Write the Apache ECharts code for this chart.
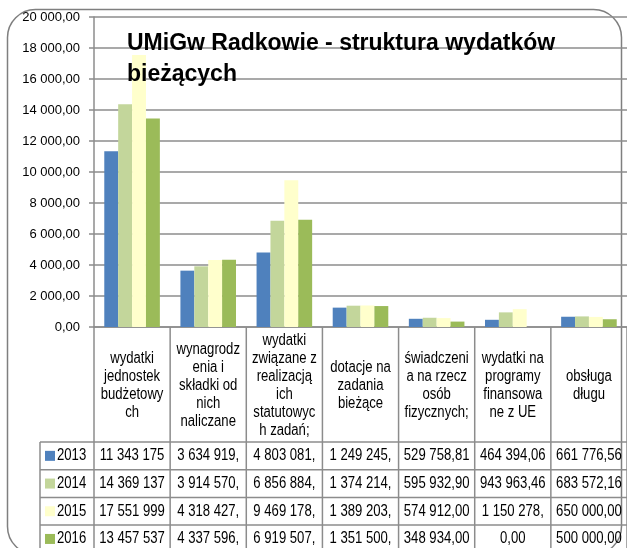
<!DOCTYPE html>
<html>
<head>
<meta charset="utf-8">
<script src="https://cdn.jsdelivr.net/npm/echarts@6/dist/echarts.min.js"></script>
<style>
  html, body { margin: 0; background: #fff; }
  #main { width: 627px; height: 548px; }
</style>
</head>
<body>
<div id="main"></div>
<script>
// dane (tys. zł)
const categories = [
  'wydatki\njednostek\nbudżetowy\nch',
  'wynagrodz\nenia i\nskładki od\nnich\nnaliczane',
  'wydatki\nzwiązane z\nrealizacją\nich\nstatutowyc\nh zadań;',
  'dotacje na\nzadania\nbieżące',
  'świadczeni\na na rzecz\nosób\nfizycznych;',
  'wydatki na\nprogramy\nfinansowa\nne z UE',
  'obsługa\ndługu'
];
const years = ['2013', '2014', '2015', '2016'];
const colors = ['#4f81bd', '#c3d69b', '#ffffcc', '#9bbb59'];

const v2013 = [11343.175, 3634.919, 4803.081, 1249.245, 529.759, 464.394, 661.777];
const v2014 = [14369.137, 3914.570, 6856.884, 1374.214, 595.933, 943.963, 683.572];
const v2015 = [17551.999, 4318.427, 9469.178, 1389.203, 574.912, 1150.278, 650.000];
const v2016 = [13457.537, 4337.596, 6919.507, 1351.500, 348.934, 0, 500.000];

// teksty w tabeli danych (jak w arkuszu, obcięte)
const t2013 = ['11 343 175', '3 634 919,', '4 803 081,', '1 249 245,', '529 758,81', '464 394,06', '661 776,56'];
const t2014 = ['14 369 137', '3 914 570,', '6 856 884,', '1 374 214,', '595 932,90', '943 963,46', '683 572,16'];
const t2015 = ['17 551 999', '4 318 427,', '9 469 178,', '1 389 203,', '574 912,00', '1 150 278,', '650 000,00'];
const t2016 = ['13 457 537', '4 337 596,', '6 919 507,', '1 351 500,', '348 934,00', '0,00', '500 000,00'];

const values = [v2013, v2014, v2015, v2016];
const texts = [t2013, t2014, t2015, t2016];

const font = "16px 'Liberation Sans', Arial, sans-serif";
const narrow = 0.82; // tekst zwężony jak Arial Narrow
const lineCol = '#8c8c8c';

const fmt = v => String(v).replace(/\B(?=(\d{3})+(?!\d))/g, ' ') + ',00';

const chart = echarts.init(document.getElementById('main'));
chart.setOption({
  animation: false,
  backgroundColor: '#fff',
  title: {
    text: 'UMiGw Radkowie - struktura wydatków\nbieżących',
    left: 122,
    top: 23,
    textStyle: { fontFamily: 'Liberation Sans', fontWeight: 'bold', fontSize: 23, lineHeight: 31, color: '#000' },
    z: 10
  },
  grid: { left: 94, right: -5, top: 17, bottom: 221, containLabel: false },
  xAxis: {
    type: 'category',
    data: categories,
    axisLine: { lineStyle: { color: lineCol, width: 1.5 } },
    axisTick: { show: false },
    axisLabel: { show: false }
  },
  yAxis: {
    type: 'value',
    min: 0,
    max: 20000,
    interval: 2000,
    axisLine: { show: true, lineStyle: { color: lineCol, width: 1.5 } },
    axisTick: { show: true, length: 5, lineStyle: { color: lineCol, width: 1.5 } },
    splitLine: { lineStyle: { color: lineCol, width: 1.5 } },
    axisLabel: { formatter: fmt, fontFamily: 'Liberation Sans', fontSize: 13, color: '#000', margin: 14 }
  },
  series: years.map((y, i) => ({
    name: y,
    type: 'bar',
    data: values[i],
    barGap: '0%',
    barCategoryGap: '27%',
    itemStyle: { color: colors[i] }
  }))
});

// tabela danych pod wykresem
const c0 = chart.convertToPixel({ xAxisIndex: 0 }, 0);
const c1 = chart.convertToPixel({ xAxisIndex: 0 }, 1);
const cw = c1 - c0;
const y0 = chart.convertToPixel({ yAxisIndex: 0 }, 0);
const headBottom = 442;
const rowH = 27.7;
const tableLeft = 40;
const bottom = 560;
const g = [];

// obramowanie wykresu
g.push({
  type: 'rect', z: -1,
  shape: { x: 7.5, y: 9.5, width: 614, height: 545, r: 28 },
  style: { fill: null, stroke: '#7f7f7f', lineWidth: 1.5 }
});

for (let i = 0; i <= categories.length; i++) {
  const x = c0 - cw / 2 + i * cw;
  g.push({ type: 'line', shape: { x1: x, y1: y0, x2: x, y2: bottom }, style: { stroke: lineCol, lineWidth: 1.5 } });
}
g.push({ type: 'line', shape: { x1: tableLeft, y1: headBottom, x2: tableLeft, y2: bottom }, style: { stroke: lineCol, lineWidth: 1.5 } });
for (let r = 0; r <= years.length; r++) {
  const y = headBottom + r * rowH;
  g.push({ type: 'line', shape: { x1: tableLeft, y1: y, x2: 640, y2: y }, style: { stroke: lineCol, lineWidth: 1.5 } });
}

categories.forEach((c, i) => {
  const x = chart.convertToPixel({ xAxisIndex: 0 }, i);
  g.push({
    type: 'text', x: x, y: (y0 + headBottom) / 2 + 1, scaleX: narrow,
    style: { text: c, font: font, lineHeight: 18, fill: '#000', align: 'center', verticalAlign: 'middle' }
  });
});

years.forEach((y, r) => {
  const cy = headBottom + (r + 0.5) * rowH;
  g.push({ type: 'rect', shape: { x: 45, y: cy - 5, width: 10, height: 10 }, style: { fill: colors[r] } });
  g.push({ type: 'text', x: 57, y: cy, scaleX: narrow, style: { text: y, font: font, fill: '#000', verticalAlign: 'middle' } });
  texts[r].forEach((t, i) => {
    const x = chart.convertToPixel({ xAxisIndex: 0 }, i);
    g.push({
      type: 'text', x: x, y: cy, scaleX: narrow,
      style: { text: t, font: font, fill: '#000', align: 'center', verticalAlign: 'middle' }
    });
  });
});

chart.setOption({ graphic: g });
</script>
</body>
</html>
